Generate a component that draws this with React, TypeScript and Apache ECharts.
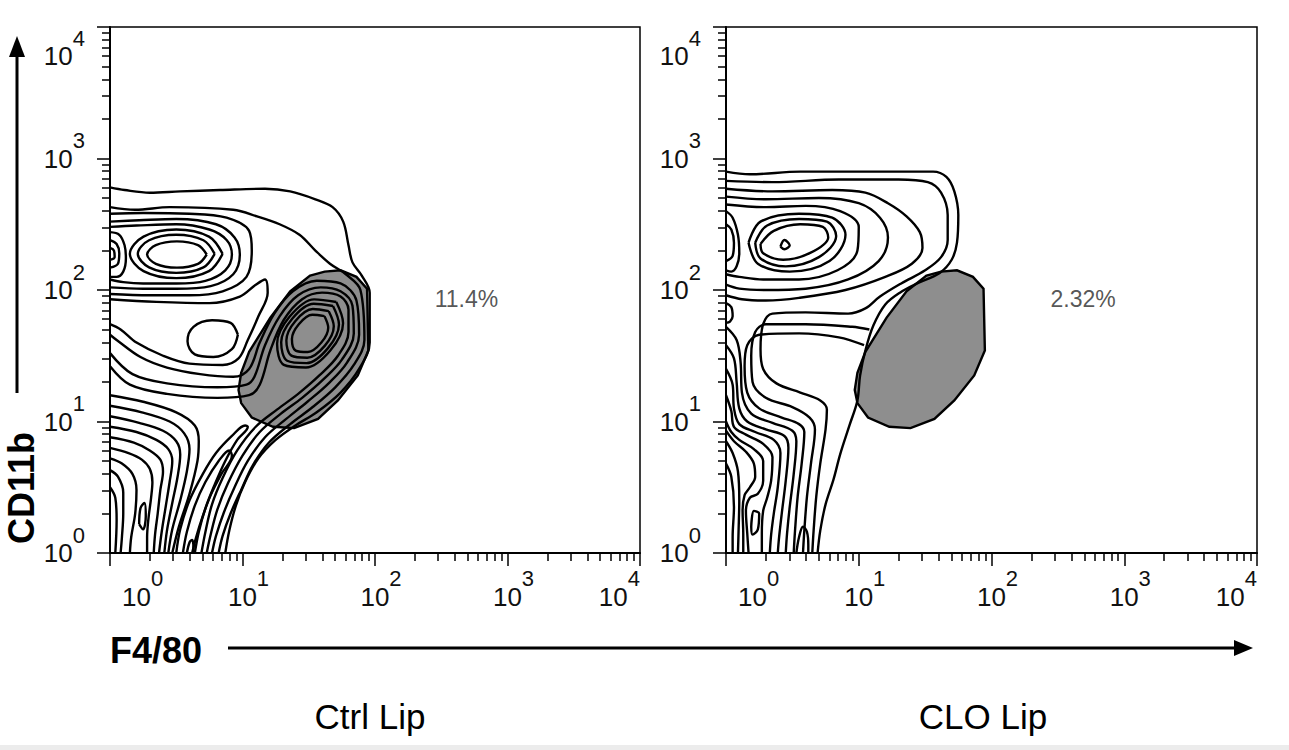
import React, { useEffect, useRef } from "react";
import * as echarts from "echarts";

// ---------- axis scale (log10 of fluorescence) ----------
const DECADES = [0, 1, 2, 3, 4];
const MINOR_MULTIPLIERS = [2, 3, 4, 5, 6, 7, 8, 9];
const MINOR_TICKS = [0, 1, 2, 3].flatMap((d) => MINOR_MULTIPLIERS.map((m) => d + Math.log10(m)));

const PANEL_TITLES = ["Ctrl Lip", "CLO Lip"];
const GATE_PERCENT = ["11.4%", "2.32%"];
const PERCENT_POS = [2.69, 1.93]; // log10 F4/80, log10 CD11b

// gate polygon (log10 F4/80, log10 CD11b) shared by both panels
const gate = [[1.51, 2.11], [1.62, 2.14], [1.74, 2.15], [1.86, 2.1], [1.94, 2.01], [1.95, 1.54], [1.87, 1.35], [1.72, 1.16], [1.57, 1.02], [1.39, 0.95], [1.23, 0.96], [1.07, 1.03], [0.99, 1.14], [0.97, 1.24], [0.99, 1.37], [1.05, 1.53], [1.21, 1.79], [1.36, 1.99], [1.51, 2.11]];

// ---------- Ctrl Lip contour lines ----------
const ctrlL1 = [[0, 2.78], [0.11, 2.76], [0.3, 2.74], [0.53, 2.75], [0.83, 2.76], [1.17, 2.77], [1.36, 2.75], [1.55, 2.69], [1.68, 2.63], [1.76, 2.52], [1.8, 2.34], [1.83, 2.21], [1.9, 2.11], [1.96, 1.98], [1.96, 1.6], [1.88, 1.4], [1.74, 1.22], [1.56, 1.07], [1.4, 0.97], [1.25, 0.86], [1.12, 0.72], [1.02, 0.54], [0.95, 0.36], [0.9, 0.17], [0.87, 0]];
const ctrlL2 = [[0, 2.63], [0.19, 2.61], [0.45, 2.63], [0.93, 2.61], [1.11, 2.56], [1.28, 2.5], [1.43, 2.42], [1.55, 2.3], [1.66, 2.2], [1.78, 2.12], [1.89, 2.0], [1.92, 1.62], [1.84, 1.43], [1.7, 1.26], [1.53, 1.11], [1.36, 0.98], [1.2, 0.84], [1.08, 0.67], [0.99, 0.48], [0.91, 0.3], [0.85, 0.13], [0.82, 0]];
const ctrlA1 = [[0.73, 2.27], [0.664, 2.341], [0.505, 2.37], [0.346, 2.341], [0.28, 2.27], [0.346, 2.199], [0.505, 2.17], [0.664, 2.199], [0.73, 2.27]];
const ctrlA2 = [[0.79, 2.275], [0.705, 2.378], [0.5, 2.42], [0.295, 2.378], [0.21, 2.275], [0.295, 2.172], [0.5, 2.13], [0.705, 2.172], [0.79, 2.275]];
const ctrlA3 = [[0.85, 2.275], [0.747, 2.406], [0.5, 2.46], [0.253, 2.406], [0.15, 2.275], [0.253, 2.144], [0.5, 2.09], [0.747, 2.144], [0.85, 2.275]];
const ctrlA4 = [[0, 2.48], [0.2, 2.49], [0.5, 2.5], [0.75, 2.46], [0.88, 2.38], [0.92, 2.27], [0.87, 2.15], [0.72, 2.07], [0.5, 2.05], [0.25, 2.05], [0.1, 2.06], [0, 2.08]];
const ctrlA5 = [[0, 2.52], [0.22, 2.53], [0.5, 2.54], [0.8, 2.5], [0.94, 2.4], [0.98, 2.27], [0.93, 2.12], [0.76, 2.03], [0.5, 2.01], [0.25, 2.01], [0, 2.02]];
const ctrlA6 = [[0, 2.58], [0.25, 2.585], [0.6, 2.58], [0.88, 2.55], [1.05, 2.45], [1.07, 2.3], [1.03, 2.1], [0.85, 1.99], [0.6, 1.96], [0.3, 1.96], [0, 1.97]];
const ctrlB1 = [[0, 2.44], [0.07, 2.42], [0.11, 2.34], [0.12, 2.24], [0.1, 2.14], [0.05, 2.1], [0, 2.1]];
const ctrlB2 = [[0, 2.38], [0.05, 2.35], [0.07, 2.28], [0.06, 2.2], [0, 2.17]];
const ctrlB3 = [[0, 2.32], [0.03, 2.3], [0.035, 2.25], [0, 2.23]];
const ctrlD1 = [[0.965, 1.66], [0.91, 1.75], [0.77, 1.77], [0.63, 1.72], [0.585, 1.61], [0.64, 1.51], [0.78, 1.49], [0.92, 1.55], [0.965, 1.66]];
const ctrlM1 = [[0, 1.93], [0.35, 1.91], [0.75, 1.9], [0.98, 1.95], [1.1, 2.04], [1.17, 2.08], [1.19, 1.98], [1.12, 1.8], [1.04, 1.62], [0.97, 1.48], [0.85, 1.43], [0.6, 1.44], [0.4, 1.5], [0.2, 1.6], [0.08, 1.7], [0, 1.74]];
const ctrlG1 = [[0, 1.66], [0.05, 1.62], [0.23, 1.49], [0.43, 1.41], [0.68, 1.36], [0.93, 1.34], [1.05, 1.4], [1.13, 1.6], [1.24, 1.82], [1.38, 1.99], [1.56, 2.07], [1.74, 2.05], [1.86, 1.92], [1.88, 1.66], [1.79, 1.45], [1.65, 1.29], [1.49, 1.15], [1.33, 1.02], [1.17, 0.88], [1.04, 0.7], [0.94, 0.5], [0.86, 0.31], [0.8, 0.13], [0.77, 0]];
const ctrlG2 = [[0, 1.52], [0.17, 1.36], [0.43, 1.29], [0.81, 1.26], [1.03, 1.28], [1.09, 1.34], [1.17, 1.58], [1.28, 1.8], [1.42, 1.96], [1.59, 2.02], [1.74, 1.99], [1.83, 1.88], [1.84, 1.67], [1.75, 1.47], [1.61, 1.32], [1.45, 1.18], [1.29, 1.06], [1.13, 0.92], [1.0, 0.74], [0.89, 0.53], [0.81, 0.33], [0.76, 0.14], [0.73, 0]];
const ctrlG3 = [[0, 1.42], [0.15, 1.28], [0.43, 1.21], [0.81, 1.18], [1.05, 1.2], [1.13, 1.28], [1.21, 1.54], [1.31, 1.77], [1.45, 1.93], [1.6, 1.98], [1.74, 1.95], [1.8, 1.85], [1.8, 1.68], [1.72, 1.5], [1.58, 1.35], [1.42, 1.21], [1.26, 1.09], [1.1, 0.96], [0.96, 0.78], [0.85, 0.57], [0.77, 0.37], [0.72, 0.16], [0.69, 0]];
const ctrlC1 = [[1.619, 1.801], [1.527, 1.812], [1.425, 1.74], [1.373, 1.627], [1.401, 1.539], [1.493, 1.528], [1.595, 1.6], [1.647, 1.713], [1.619, 1.801]];
const ctrlC2 = [[1.651, 1.839], [1.531, 1.855], [1.398, 1.763], [1.331, 1.616], [1.369, 1.501], [1.489, 1.485], [1.622, 1.577], [1.689, 1.724], [1.651, 1.839]];
const ctrlC3 = [[1.683, 1.878], [1.537, 1.896], [1.375, 1.782], [1.292, 1.602], [1.337, 1.462], [1.483, 1.444], [1.645, 1.558], [1.728, 1.738], [1.683, 1.878]];
const ctrlC4 = [[1.708, 1.909], [1.541, 1.929], [1.356, 1.798], [1.261, 1.592], [1.312, 1.431], [1.479, 1.411], [1.664, 1.542], [1.759, 1.748], [1.708, 1.909]];
const ctrlH1 = [[0.5, 0], [0.53, 0.18], [0.6, 0.4], [0.7, 0.6], [0.8, 0.76], [0.92, 0.89], [1.02, 0.97], [1.04, 0.96], [0.96, 0.86], [0.87, 0.7], [0.79, 0.52], [0.72, 0.34], [0.67, 0.16], [0.64, 0]];
const ctrlH2 = [[0.55, 0], [0.58, 0.16], [0.64, 0.36], [0.72, 0.54], [0.82, 0.7], [0.9, 0.78], [0.92, 0.74], [0.84, 0.6], [0.76, 0.44], [0.7, 0.28], [0.65, 0.12], [0.62, 0]];
const ctrlV1 = [[0, 1.2], [0.25, 1.15], [0.5, 1.07], [0.64, 0.97], [0.67, 0.85], [0.66, 0.7], [0.6, 0.45], [0.52, 0.2], [0.47, 0]];
const ctrlV2 = [[0, 1.12], [0.24, 1.07], [0.45, 1.0], [0.56, 0.91], [0.6, 0.79], [0.58, 0.62], [0.53, 0.4], [0.47, 0.18], [0.44, 0]];
const ctrlV3 = [[0, 1.04], [0.22, 0.99], [0.4, 0.93], [0.5, 0.85], [0.53, 0.75], [0.51, 0.58], [0.47, 0.38], [0.43, 0.17], [0.41, 0]];
const ctrlV4 = [[0, 0.96], [0.2, 0.92], [0.35, 0.86], [0.44, 0.79], [0.47, 0.7], [0.45, 0.54], [0.42, 0.35], [0.39, 0.16], [0.37, 0]];
const ctrlV5 = [[0, 0.88], [0.18, 0.84], [0.3, 0.78], [0.38, 0.71], [0.4, 0.62], [0.38, 0.48], [0.36, 0.3], [0.34, 0.14], [0.33, 0]];
const ctrlV6 = [[0, 0.8], [0.14, 0.76], [0.24, 0.71], [0.3, 0.64], [0.32, 0.54], [0.31, 0.42], [0.29, 0.26], [0.28, 0.12], [0.28, 0]];
const ctrlE1 = [[0, 0.72], [0.09, 0.68], [0.17, 0.6], [0.2, 0.48], [0.19, 0.3], [0.16, 0.12], [0.15, 0]];
const ctrlE2 = [[0, 0.63], [0.06, 0.58], [0.1, 0.46], [0.1, 0.3], [0.09, 0.12], [0.08, 0]];
const ctrlE3 = [[0, 0.5], [0.04, 0.42], [0.05, 0.25], [0.04, 0]];
const ctrlPocket = [[0.22, 0.22], [0.23, 0.34], [0.26, 0.38], [0.27, 0.28], [0.25, 0.18], [0.22, 0.22]];
const ctrlF1 = [[0.58, 0], [0.6, 0.08], [0.62, 0.1], [0.63, 0.04], [0.63, 0]];

const ctrlContours = [ctrlL1, ctrlL2, ctrlA1, ctrlA2, ctrlA3, ctrlA4, ctrlA5, ctrlA6, ctrlB1, ctrlB2, ctrlB3, ctrlD1, ctrlM1, ctrlG1, ctrlG2, ctrlG3, ctrlC1, ctrlC2, ctrlC3, ctrlC4, ctrlH1, ctrlH2, ctrlV1, ctrlV2, ctrlV3, ctrlV4, ctrlV5, ctrlV6, ctrlE1, ctrlE2, ctrlE3, ctrlPocket, ctrlF1];

// ---------- CLO Lip contour lines ----------
const cloR1 = [[0, 2.9], [0.18, 2.88], [0.56, 2.9], [0.86, 2.9], [1.31, 2.9], [1.56, 2.9], [1.66, 2.86], [1.72, 2.75], [1.75, 2.57], [1.74, 2.36], [1.7, 2.23], [1.61, 2.13], [1.44, 2.05], [1.31, 1.98], [1.2, 1.89], [1.11, 1.73], [1.05, 1.54], [1.01, 1.35], [0.99, 1.16], [0.93, 0.97], [0.86, 0.75], [0.81, 0.56], [0.75, 0.37], [0.71, 0.17], [0.69, 0]];
const cloR2 = [[0, 2.83], [0.35, 2.82], [0.85, 2.84], [1.3, 2.84], [1.52, 2.82], [1.62, 2.74], [1.67, 2.57], [1.67, 2.38], [1.62, 2.25], [1.5, 2.15], [1.32, 2.05], [1.16, 1.95], [1.05, 1.86], [0.92, 1.82], [0.6, 1.83], [0.35, 1.82], [0.28, 1.74], [0.26, 1.55], [0.28, 1.4], [0.38, 1.29], [0.56, 1.22], [0.71, 1.16], [0.76, 1.09], [0.75, 0.94], [0.71, 0.68], [0.68, 0.43], [0.66, 0.17], [0.65, 0]];
const cloA5 = [[0, 2.77], [0.35, 2.75], [0.8, 2.76], [1.05, 2.74], [1.22, 2.66], [1.36, 2.56], [1.46, 2.44], [1.48, 2.32], [1.4, 2.2], [1.2, 2.1], [0.9, 2.0], [0.55, 1.94], [0.3, 1.92], [0.12, 1.93], [0, 1.96]];
const cloA4 = [[0, 2.71], [0.3, 2.69], [0.7, 2.7], [1.0, 2.66], [1.16, 2.55], [1.22, 2.4], [1.15, 2.22], [0.92, 2.08], [0.6, 2.01], [0.3, 2.0], [0.1, 2.01], [0, 2.04]];
const cloA3 = [[0, 2.65], [0.3, 2.63], [0.6, 2.64], [0.86, 2.6], [1.0, 2.48], [0.99, 2.3], [0.84, 2.15], [0.55, 2.08], [0.28, 2.08], [0.1, 2.1], [0, 2.12]];
const cloA2 = [[0.17, 2.36], [0.26, 2.52], [0.55, 2.58], [0.8, 2.55], [0.9, 2.42], [0.78, 2.22], [0.48, 2.14], [0.24, 2.2], [0.17, 2.36]];
const cloA1b = [[0.22, 2.36], [0.31, 2.49], [0.55, 2.54], [0.76, 2.52], [0.83, 2.41], [0.7, 2.25], [0.45, 2.18], [0.26, 2.24], [0.22, 2.36]];
const cloA1 = [[0.26, 2.35], [0.36, 2.45], [0.56, 2.5], [0.73, 2.48], [0.77, 2.4], [0.63, 2.28], [0.43, 2.23], [0.28, 2.28], [0.26, 2.35]];
const cloA0 = [[0.41, 2.33], [0.44, 2.38], [0.48, 2.34], [0.44, 2.31], [0.41, 2.33]];
const cloB1 = [[0, 2.6], [0.05, 2.55], [0.09, 2.42], [0.1, 2.28], [0.08, 2.18], [0.04, 2.14], [0, 2.15]];
const cloB2 = [[0, 2.5], [0.04, 2.46], [0.06, 2.36], [0.05, 2.26], [0, 2.22]];
const cloB3 = [[0, 1.9], [0.04, 1.87], [0.05, 1.8], [0.03, 1.76], [0, 1.75]];
const cloS2 = [[1.08, 1.7], [0.95, 1.72], [0.6, 1.74], [0.3, 1.74], [0.22, 1.68], [0.19, 1.5], [0.2, 1.3], [0.3, 1.18], [0.5, 1.11], [0.63, 1.03], [0.67, 0.94], [0.64, 0.68], [0.61, 0.43], [0.59, 0.17], [0.58, 0]];
const cloS3 = [[1.04, 1.58], [0.85, 1.64], [0.55, 1.67], [0.25, 1.66], [0.16, 1.58], [0.14, 1.42], [0.16, 1.22], [0.25, 1.1], [0.42, 1.03], [0.55, 0.98], [0.59, 0.92], [0.57, 0.68], [0.54, 0.43], [0.52, 0.17], [0.51, 0]];
const cloS4 = [[0, 1.72], [0.08, 1.62], [0.11, 1.45], [0.12, 1.22], [0.19, 1.06], [0.35, 0.99], [0.5, 0.93], [0.53, 0.85], [0.51, 0.6], [0.48, 0.35], [0.46, 0.15], [0.45, 0]];
const cloS5 = [[0, 1.58], [0.06, 1.48], [0.08, 1.3], [0.1, 1.1], [0.16, 1.0], [0.3, 0.94], [0.44, 0.89], [0.47, 0.8], [0.45, 0.55], [0.42, 0.3], [0.4, 0.12], [0.39, 0]];
const cloS6 = [[0, 1.4], [0.05, 1.28], [0.06, 1.1], [0.1, 0.98], [0.22, 0.92], [0.36, 0.86], [0.41, 0.76], [0.39, 0.5], [0.36, 0.3], [0.34, 0.14], [0.33, 0]];
const cloS7 = [[0, 1.2], [0.04, 1.08], [0.06, 0.96], [0.15, 0.9], [0.28, 0.83], [0.35, 0.73], [0.34, 0.55], [0.31, 0.42], [0.28, 0.32], [0.27, 0.15], [0.27, 0]];
const cloS8 = [[0, 1.0], [0.04, 0.92], [0.1, 0.86], [0.21, 0.79], [0.28, 0.7], [0.28, 0.55], [0.24, 0.45], [0.18, 0.42], [0.15, 0.32], [0.16, 0.15], [0.17, 0]];
const cloS9 = [[0, 0.93], [0.06, 0.85], [0.15, 0.77], [0.21, 0.68], [0.22, 0.58], [0.18, 0.5], [0.14, 0.44], [0.125, 0.32], [0.13, 0.15], [0.13, 0]];
const cloPocket = [[0.19, 0.2], [0.21, 0.32], [0.25, 0.3], [0.24, 0.18], [0.2, 0.14], [0.19, 0.2]];
const cloE1 = [[0, 0.85], [0.05, 0.76], [0.09, 0.62], [0.1, 0.4], [0.095, 0.18], [0.09, 0]];
const cloE2 = [[0, 0.68], [0.04, 0.58], [0.06, 0.35], [0.05, 0.12], [0.05, 0]];
const cloF1 = [[0.53, 0], [0.55, 0.12], [0.58, 0.2], [0.61, 0.16], [0.62, 0.06], [0.62, 0]];

const cloContours = [cloR1, cloR2, cloA5, cloA4, cloA3, cloA2, cloA1b, cloA1, cloA0, cloB1, cloB2, cloB3, cloS2, cloS3, cloS4, cloS5, cloS6, cloS7, cloS8, cloS9, cloPocket, cloE1, cloE2, cloF1];

const PANEL_CONTOURS = [ctrlContours, cloContours];

// ---------- styling ----------
const FONT = "'Liberation Sans', Arial, Helvetica, sans-serif";
const GRIDS = [
  { left: 110, top: 27, width: 530, height: 526 },
  { left: 726, top: 27, width: 531, height: 526 },
];

const fmt = (v: number) => `{b|10}{s|${Math.round(v)}}`;
const xRich = {
  b: { fontSize: 26, fontFamily: FONT, color: "#111", padding: [0, 0, 0, 12] },
  s: { fontSize: 22, fontFamily: FONT, color: "#111", padding: [0, 0, 38, 0] },
};
const yRich = {
  b: { fontSize: 26, fontFamily: FONT, color: "#111" },
  s: { fontSize: 22, fontFamily: FONT, color: "#111", padding: [0, 0, 36, 0] },
};

function buildOption() {
  const xAxis: any[] = [];
  const yAxis: any[] = [];
  const series: any[] = [];
  GRIDS.forEach((_, gi) => {
    xAxis.push({
      gridIndex: gi, type: "value", min: 0, max: 4, interval: 1, position: "bottom",
      axisLine: { show: true, onZero: false, lineStyle: { color: "#000", width: 2 } },
      axisTick: { show: true, length: 13, lineStyle: { color: "#000", width: 1.5 } },
      axisLabel: { show: true, margin: 14, formatter: fmt, rich: xRich, alignMinLabel: "left", alignMaxLabel: "right", showMinLabel: true, showMaxLabel: true, hideOverlap: false },
      splitLine: { show: false },
    });
    xAxis.push({
      gridIndex: gi, type: "value", min: 0, max: 4, position: "bottom",
      axisLine: { show: false },
      axisTick: { show: true, length: 8, customValues: MINOR_TICKS, lineStyle: { color: "#000", width: 1.5 } },
      axisLabel: { show: false }, splitLine: { show: false },
    });
    yAxis.push({
      gridIndex: gi, type: "value", min: 0, max: 4, interval: 1, position: "left",
      axisLine: { show: true, onZero: false, lineStyle: { color: "#000", width: 2 } },
      axisTick: { show: true, length: 13, lineStyle: { color: "#000", width: 1.5 } },
      axisLabel: { show: true, margin: 25, formatter: fmt, rich: yRich, verticalAlignMaxLabel: "top", showMinLabel: true, showMaxLabel: true, hideOverlap: false },
      splitLine: { show: false },
    });
    yAxis.push({
      gridIndex: gi, type: "value", min: 0, max: 4, position: "left",
      axisLine: { show: false },
      axisTick: { show: true, length: 8, customValues: MINOR_TICKS, lineStyle: { color: "#000", width: 1.5 } },
      axisLabel: { show: false }, splitLine: { show: false },
    });
    const ai = gi * 2;
    series.push({
      type: "custom", xAxisIndex: ai, yAxisIndex: ai, silent: true, z: 1, clip: true,
      data: [gate[0]],
      renderItem: (params: any, api: any) => ({
        type: "polygon",
        shape: { points: gate.map((p) => api.coord(p)) },
        style: { fill: "#8e8e8e", stroke: "#000", lineWidth: 2.4 },
      }),
    });
    PANEL_CONTOURS[gi].forEach((c) => {
      series.push({
        type: "line", xAxisIndex: ai, yAxisIndex: ai, data: c, symbol: "none", showSymbol: false,
        smooth: 0.35, clip: true, silent: true, z: 3,
        lineStyle: { color: "#000", width: 2.4 },
      });
    });
    series.push({
      type: "scatter", xAxisIndex: ai, yAxisIndex: ai, data: [PERCENT_POS], symbolSize: 0, silent: true, z: 4,
      label: { show: true, position: "inside", formatter: GATE_PERCENT[gi], fontSize: 23, fontFamily: FONT, color: "#2a2a2a" },
    });
  });

  return {
    animation: false,
    backgroundColor: "#fff",
    grid: GRIDS.map((g) => ({ ...g, show: true, borderColor: "#000", borderWidth: 1.5, backgroundColor: "transparent", containLabel: false, outerBoundsMode: "none" })),
    xAxis, yAxis, series,
    graphic: [
      { type: "rect", silent: true, shape: { x: 0, y: 745, width: 1289, height: 5 }, style: { fill: "#ececec" } },
      { type: "line", silent: true, shape: { x1: 17, y1: 393, x2: 17, y2: 52 }, style: { stroke: "#000", lineWidth: 3 } },
      { type: "polygon", silent: true, shape: { points: [[17, 36], [9, 57], [25, 57]] }, style: { fill: "#000" } },
      { type: "text", silent: true, x: 21, y: 488, rotation: Math.PI / 2, style: { text: "CD11b", fontSize: 36, fontWeight: "bold", fontFamily: FONT, fill: "#000", align: "center", verticalAlign: "middle" } },
      { type: "text", silent: true, x: 110, y: 650, style: { text: "F4/80", fontSize: 36, fontWeight: "bold", fontFamily: FONT, fill: "#000", align: "left", verticalAlign: "middle" } },
      { type: "line", silent: true, shape: { x1: 228, y1: 648, x2: 1238, y2: 648 }, style: { stroke: "#000", lineWidth: 3 } },
      { type: "polygon", silent: true, shape: { points: [[1253, 648], [1234, 640], [1234, 656]] }, style: { fill: "#000" } },
      { type: "text", silent: true, x: 370, y: 716, style: { text: PANEL_TITLES[0], fontSize: 35, fontFamily: FONT, fill: "#000", align: "center", verticalAlign: "middle" } },
      { type: "text", silent: true, x: 983, y: 716, style: { text: PANEL_TITLES[1], fontSize: 35, fontFamily: FONT, fill: "#000", align: "center", verticalAlign: "middle" } },
    ],
  };
}

export default function App() {
  const ref = useRef<HTMLDivElement>(null);
  useEffect(() => {
    if (!ref.current) return;
    const chart = echarts.init(ref.current, null, { renderer: "svg" });
    chart.setOption(buildOption() as any);
    return () => chart.dispose();
  }, []);
  return <div ref={ref} style={{ position: "absolute", left: 0, top: 0, width: 1289, height: 750, background: "#fff" }} />;
}
